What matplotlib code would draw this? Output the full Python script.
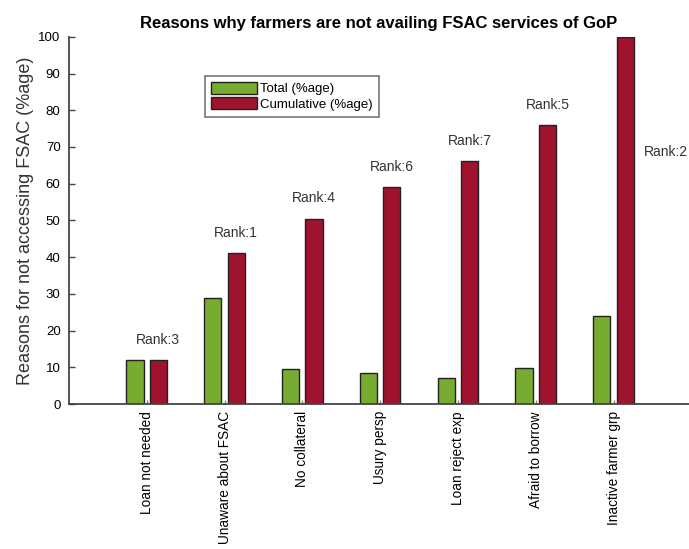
import matplotlib.pyplot as plt
import numpy as np

plt.rcParams['font.family'] = ['Liberation Sans', 'DejaVu Sans']

reasons = ['Loan not needed', 'Unaware about FSAC', 'No collateral', 'Usury persp',
           'Loan reject exp', 'Afraid to borrow', 'Inactive farmer grp']
total = [12, 29, 9.5, 8.5, 7.2, 9.8, 24]
cumulative = [12, 41, 50.5, 59, 66.2, 76, 100]
ranks = ['Rank:3', 'Rank:1', 'Rank:4', 'Rank:6', 'Rank:7', 'Rank:5', 'Rank:2']

green = '#78ac30'
red = '#a0132f'

fig = plt.figure(figsize=(6.89, 5.49), dpi=100)
ax = fig.add_axes([0.100, 0.264, 0.900, 0.669])

x = np.arange(len(reasons))
w = 0.22
ax.bar(x - 0.15, total, w, color=green, edgecolor='#222222', linewidth=1, label='Total (%age)')
ax.bar(x + 0.15, cumulative, w, color=red, edgecolor='#222222', linewidth=1, label='Cumulative (%age)')

# rank labels above the cumulative bars, last one sits to the right
for i, r in enumerate(ranks):
    if i < len(ranks) - 1:
        ax.text(i + 0.15, cumulative[i] + 5.5, r, ha='center', va='center', fontsize=10, color='#333333')
    else:
        ax.text(i + 0.67, 68.7, r, ha='center', va='center', fontsize=10, color='#333333')

ax.set_xlim(-1.0, 6.97)
ax.set_ylim(0, 100)
ax.set_yticks(range(0, 101, 10))
ax.set_xticks(x)
ax.set_xticklabels(reasons, rotation=90, fontsize=9.8, va='top')
ax.tick_params(axis='y', direction='in', length=4, width=1, color='#444444', labelsize=9.5, pad=6)
ax.tick_params(axis='x', direction='in', length=3, width=1, color='#888888', pad=5)

for s in ['top', 'right']:
    ax.spines[s].set_visible(False)
for s in ['left', 'bottom']:
    ax.spines[s].set_color('#444444')
    ax.spines[s].set_linewidth(1.3)

ax.set_ylabel('Reasons for not accessing FSAC (%age)', fontsize=13, color='#333333', labelpad=3)
ax.set_title('Reasons why farmers are not availing FSAC services of GoP', fontsize=12,
             fontweight='bold', pad=6)

leg = ax.legend(loc='upper left', bbox_to_anchor=(0.219, 0.894), fontsize=9.5, frameon=True,
                fancybox=False, edgecolor='#555555', handlelength=3.5, handleheight=1.1,
                handletextpad=0.25, borderpad=0.45, labelspacing=0.1, borderaxespad=0)
leg.get_frame().set_linewidth(1.2)

fig.savefig('out.png', dpi=100)
